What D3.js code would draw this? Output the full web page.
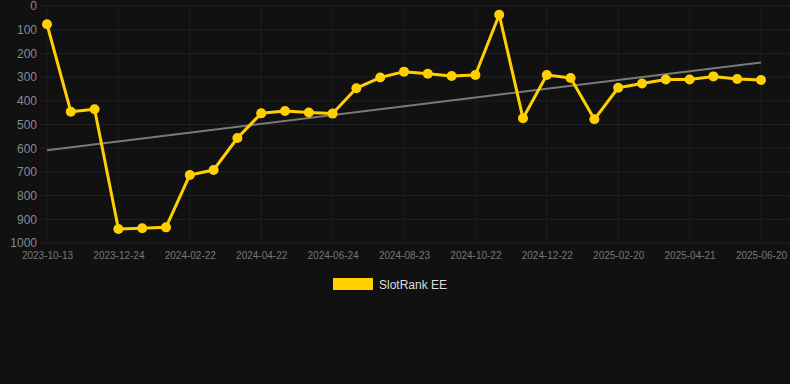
<!DOCTYPE html>
<html><head><meta charset="utf-8">
<script src="https://cdn.jsdelivr.net/npm/d3@7"></script>
<style>
html,body{margin:0;padding:0;background:#111111;}
svg{display:block;font-family:"Liberation Sans",Arial,sans-serif;}
</style></head>
<body><svg id="c" width="790" height="384"></svg>
<script>
const categories = ["2023-10-13","2023-11-06","2023-11-30","2023-12-24","2024-01-13","2024-02-02","2024-02-22","2024-03-13","2024-04-02","2024-04-22","2024-05-13","2024-06-03","2024-06-24","2024-07-14","2024-08-03","2024-08-23","2024-09-12","2024-10-02","2024-10-22","2024-11-11","2024-12-01","2024-12-22","2025-01-11","2025-01-31","2025-02-20","2025-03-12","2025-04-01","2025-04-21","2025-05-11","2025-05-31","2025-06-20"];
const rankValues = [77,446,436,941,938,934,713,692,557,453,443,449,454,347,302,277,286,295,291,37,474,291,304,478,345,327,310,310,297,308,312];
const yTicks = [0,100,200,300,400,500,600,700,800,900,1000];
const seriesName = "SlotRank EE";

const svg = d3.select("#c");
const x = d3.scalePoint().domain(categories).range([47, 761]);
const y = d3.scaleLinear().domain([0, 1000]).range([6, 243]);
const gridLeft = 40, gridRight = 790;

// horizontal grid
svg.append("g").selectAll("line").data(yTicks).join("line")
  .attr("x1", gridLeft).attr("x2", gridRight)
  .attr("y1", d => y(d)).attr("y2", d => y(d))
  .attr("stroke", "#222222").attr("stroke-width", 1);

const labeled = categories.filter((d, i) => i % 3 === 0);
// vertical grid
svg.append("g").selectAll("line").data(labeled).join("line")
  .attr("x1", d => x(d)).attr("x2", d => x(d))
  .attr("y1", y(0)).attr("y2", y(1000))
  .attr("stroke", "#1d1d1d").attr("stroke-width", 1);

// y axis labels
const yAxis = d3.axisLeft(y).tickValues(yTicks).tickFormat(d3.format("d")).tickSize(0).tickPadding(0);
const gy = svg.append("g").attr("transform", "translate(37,0)").call(yAxis);
gy.select(".domain").remove();
gy.selectAll("text").attr("fill", "#8a8a8a").style("font-size", "12px")
  .style("font-family", "'Liberation Sans',Arial,sans-serif");

// x axis labels
const xAxis = d3.axisBottom(x).tickValues(labeled).tickSize(0).tickPadding(0);
const gx = svg.append("g").attr("transform", "translate(0,252)").call(xAxis);
gx.select(".domain").remove();
gx.selectAll("text").attr("fill", "#777777").style("font-size", "10px")
  .style("font-family", "'Liberation Sans',Arial,sans-serif");

// trend line (least squares over the series)
const n = rankValues.length;
const idx = d3.range(n);
const mx = d3.mean(idx), my = d3.mean(rankValues);
const slope = d3.sum(idx, i => (i - mx) * (rankValues[i] - my)) / d3.sum(idx, i => (i - mx) ** 2);
const icpt = my - slope * mx;
svg.append("line")
  .attr("x1", x(categories[0])).attr("y1", y(icpt))
  .attr("x2", x(categories[n - 1])).attr("y2", y(icpt + slope * (n - 1)))
  .attr("stroke", "#7a7a7a").attr("stroke-width", 2);

// series line
const line = d3.line().x((d, i) => x(categories[i])).y(d => y(d));
svg.append("path").datum(rankValues).attr("d", line)
  .attr("fill", "none").attr("stroke", "#FFD000").attr("stroke-width", 3)
  .attr("stroke-linejoin", "round");
svg.append("g").selectAll("circle").data(rankValues).join("circle")
  .attr("cx", (d, i) => x(categories[i])).attr("cy", d => y(d)).attr("r", 5)
  .attr("fill", "#FFD000");

// legend
const lg = svg.append("g");
lg.append("rect").attr("x", 333).attr("y", 278).attr("width", 40).attr("height", 12).attr("fill", "#FFD000");
lg.append("text").attr("x", 379).attr("y", 288.5).text(seriesName)
  .attr("fill", "#dddddd").style("font-size", "12px");
</script></body></html>
